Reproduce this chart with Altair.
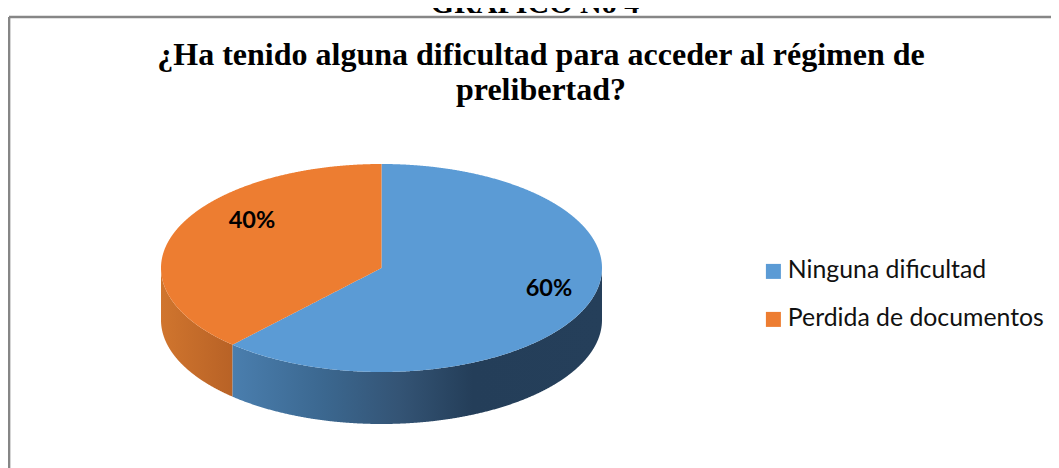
import numpy as np
import pandas as pd
import altair as alt

categories = ["Ninguna dificultad", "Perdida de documentos"]
percent_labels = ["60%", "40%"]
# share of the top-face sweep as drawn in the picture (projection widens the first slice)
drawn_shares = [0.618, 0.382]
top_colors = ["#5B9BD5", "#ED7D31"]
page_title = "GRÁFICO No 4"
title_lines = ["¿Ha tenido alguna dificultad para acceder al régimen de", "prelibertad?"]

W, H = 1043, 460
CX, CY, RX, RY, DEPTH = 373.5, 260.0, 220.5, 104.0, 52.0

a = drawn_shares[0] * 2 * np.pi
bx, by = np.sin(a), np.cos(a)
grid = np.sin(np.linspace(-np.pi / 2, np.pi / 2, 721))


def ell(x):
    return np.sqrt(np.clip(1 - x * x, 0, 1))


def span(lo, hi, hi_eps=0.0):
    pts = grid[(grid > lo) & (grid < hi)]
    return np.concatenate([[lo], pts, [hi + hi_eps]])


def frame(x, top, bottom, name):
    return pd.DataFrame({"x": x, "y": top, "y2": bottom, "serie": name})


x1 = span(bx, 0)
x2 = span(1e-6, 1)
x3 = span(-1, bx)
x4 = span(bx + 1e-6, 0)
top_face = pd.concat([
    frame(x1, x1 * by / bx, -ell(x1), categories[0]),
    frame(x2, ell(x2), -ell(x2), categories[0]),
    frame(x3, ell(x3), -ell(x3), categories[1]),
    frame(x4, ell(x4), x4 * by / bx, categories[1]),
])
side_depth = DEPTH / RY
xb = span(bx, 1)
xo = span(-1, bx)
side_blue = frame(xb, -ell(xb), -ell(xb) - side_depth, categories[0])
side_orange = frame(xo, -ell(xo), -ell(xo) - side_depth, categories[1])

x_enc = alt.X("x:Q", axis=None, scale=alt.Scale(domain=[-CX / RX, (W - CX) / RX], nice=False, zero=False))
y_enc = alt.Y("y:Q", axis=None, scale=alt.Scale(domain=[-(H - CY) / RY, CY / RY], nice=False, zero=False))


def gradient(stops):
    return alt.Gradient(gradient="linear", x1=0, y1=0, x2=1, y2=0,
                        stops=[alt.GradientStop(offset=o, color=c) for o, c in stops])


blue_side = alt.Chart(side_blue).mark_area(
    fill=gradient([(0, "#4A7EAE"), (0.25, "#3B678F"), (0.45, "#345475"), (0.65, "#243E59"), (1, "#253F5A")])
).encode(x=x_enc, y=y_enc, y2="y2:Q")
orange_side = alt.Chart(side_orange).mark_area(
    fill=gradient([(0, "#D0752E"), (1, "#B86226")])
).encode(x=x_enc, y=y_enc, y2="y2:Q")

top = alt.Chart(top_face).mark_area().encode(
    x=x_enc, y=y_enc, y2="y2:Q",
    color=alt.Color("serie:N", scale=alt.Scale(domain=categories, range=top_colors),
                    legend=alt.Legend(orient="none", legendX=753, legendY=251, title=None,
                                      symbolType="square", symbolSize=225, symbolStrokeWidth=0,
                                      labelFont="Lato", labelFontSize=24.8, labelColor="#111111",
                                      labelOffset=2, rowPadding=22, padding=0, labelLimit=320)),
)


def text(s, px, py, font, size, bold=True, align="center", color="#000000"):
    return alt.Chart(pd.DataFrame({"t": [s]})).mark_text(
        font=font, fontSize=size, fontWeight="bold" if bold else "normal",
        align=align, baseline="alphabetic", color=color,
    ).encode(text="t:N", x=alt.value(px), y=alt.value(py))


texts = [
    text(page_title, 527, 5, "Liberation Serif", 30),
    text(title_lines[0], 533, 57, "Liberation Serif", 32),
    text(title_lines[1], 533, 92, "Liberation Serif", 32),
    text(percent_labels[0], 541, 288, "Lato", 23.5),
    text(percent_labels[1], 244, 220, "Lato", 23.5),
]

frame_top = alt.Chart(pd.DataFrame({"a": [0]})).mark_rule(color="#868686", strokeWidth=2.7).encode(
    x=alt.value(1), x2=alt.value(W), y=alt.value(9))
frame_left = alt.Chart(pd.DataFrame({"a": [0]})).mark_rule(color="#868686", strokeWidth=2.7).encode(
    x=alt.value(1), y=alt.value(9), y2=alt.value(H))

chart = alt.layer(frame_top, frame_left, orange_side, blue_side, top, *texts).properties(
    width=W, height=H, padding=0,
    autosize=alt.AutoSizeParams(type="none"),
    background="#FFFFFF",
).configure_view(stroke=None)

chart.save("out.html", embed_options={"renderer": "svg", "actions": False})
